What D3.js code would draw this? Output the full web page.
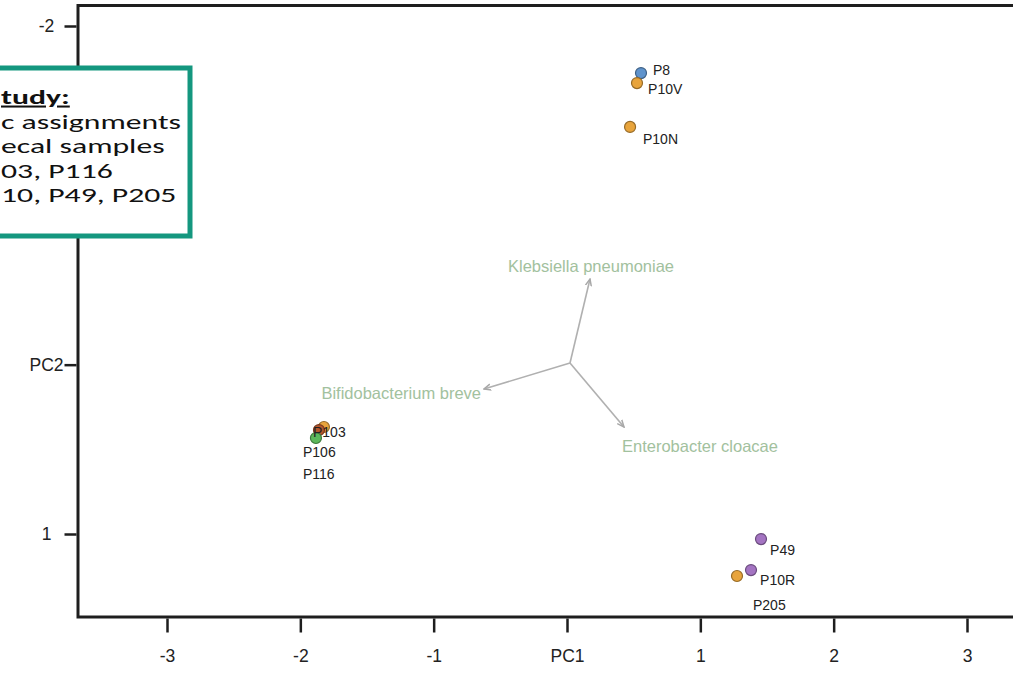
<!DOCTYPE html>
<html>
<head>
<meta charset="utf-8">
<script src="https://cdn.jsdelivr.net/npm/d3@7"></script>
<style>
    body { margin: 0; background: #fff; }
    svg { display: block; }
</style>
</head>
<body>
<svg id="chart" width="1013" height="690"></svg>
<script>
// sample scores (PC1, PC2)
const samples = ["P8", "P10V", "P10N", "P103", "P106", "P116", "P49", "P10R", "P205"];
const pc1 = [0.555, 0.525, 0.473, -1.823, -1.860, -1.883, 1.455, 1.275, 1.380];
const pc2 = [-1.722, -1.663, -1.404, 0.368, 0.386, 0.433, 1.030, 1.248, 1.213];
const groups = ["blue", "orange", "orange", "orange", "brown", "green", "purple", "orange", "purple"];
// where each sample name sits (data units, left edge / baseline)
const labelPC1 = [0.645, 0.608, 0.570, -1.905, -1.980, -1.980, 1.523, 1.448, 1.395];
const labelPC2 = [-1.711, -1.599, -1.303, 0.427, 0.545, 0.675, 1.124, 1.301, 1.449];

// species loadings (arrows from the origin)
const species = ["Klebsiella pneumoniae", "Bifidobacterium breve", "Enterobacter cloacae"];
const loadOrigin = [0.0225, -0.010];
const loadPC1 = [0.1725, -0.6225, 0.4275];
const loadPC2 = [-0.506, 0.144, 0.368];
const speciesLabelPC1 = [0.180, -0.645, 0.4125];
const speciesLabelPC2 = [-0.547, 0.203, 0.515];

// axes
const xTicks = [-3, -2, -1, 0, 1, 2, 3];
const xTickLabels = ["-3", "-2", "-1", "PC1", "1", "2", "3"];
const yTicks = [-2, -1, 0, 1];
const yTickLabels = ["-2", "-1", "PC2", "1"];

// callout text (box runs off the left edge)
const noteLines = ["tudy:", "c assignments", "ecal samples", "03, P116", "10, P49, P205"];

const colors = {
    blue: "#5f93cc",
    orange: "#e8a43c",
    brown: "#b5562c",
    green: "#5cb85c",
    purple: "#a474c2"
};

const svg = d3.select("#chart");

const frame = { left: 78, top: 5.5, bottom: 617, right: 1030 };

const x = d3.scaleLinear().domain([-3, 3]).range([167, 967]);
const y = d3.scaleLinear().domain([-2, 1]).range([26, 534]);

// plot frame
svg.append("rect")
    .attr("x", frame.left)
    .attr("y", frame.top)
    .attr("width", frame.right - frame.left)
    .attr("height", frame.bottom - frame.top)
    .attr("fill", "#fff")
    .attr("stroke", "#1e1e1e")
    .attr("stroke-width", 3);

// x axis
const xAxis = svg.append("g")
    .attr("transform", `translate(0,${frame.bottom + 1.5})`)
    .call(d3.axisBottom(x).tickValues(xTicks).tickFormat((d, i) => xTickLabels[i]).tickSize(14).tickSizeOuter(0));
xAxis.select(".domain").remove();
xAxis.selectAll("line").attr("stroke", "#1e1e1e").attr("stroke-width", 2.5);
xAxis.selectAll("text")
    .attr("y", 43)
    .attr("dy", 0)
    .style("font-family", "Liberation Sans, Arial, sans-serif")
    .style("font-size", "17.5px")
    .attr("fill", "#222");

// y axis (labels are centred in the source)
const yAxis = svg.append("g")
    .attr("transform", `translate(${frame.left - 1.5},0)`)
    .call(d3.axisLeft(y).tickValues(yTicks).tickFormat((d, i) => yTickLabels[i]).tickSize(12).tickSizeOuter(0));
yAxis.select(".domain").remove();
yAxis.selectAll("line").attr("stroke", "#1e1e1e").attr("stroke-width", 2.5);
yAxis.selectAll("text")
    .attr("x", -30)
    .attr("text-anchor", "middle")
    .style("font-family", "Liberation Sans, Arial, sans-serif")
    .style("font-size", "17.5px")
    .attr("fill", "#222");

// loading arrows
svg.append("defs").append("marker")
    .attr("id", "head")
    .attr("viewBox", "0 -4 8 8")
    .attr("refX", 7)
    .attr("refY", 0)
    .attr("markerWidth", 5)
    .attr("markerHeight", 5)
    .attr("orient", "auto")
    .append("path")
    .attr("d", "M0,-3L7,0L0,3")
    .attr("fill", "none")
    .attr("stroke", "#a8a8a8")
    .attr("stroke-width", 1.5);

svg.append("g").selectAll("line")
    .data(species)
    .join("line")
    .attr("x1", x(loadOrigin[0]))
    .attr("y1", y(loadOrigin[1]))
    .attr("x2", (d, i) => x(loadPC1[i]))
    .attr("y2", (d, i) => y(loadPC2[i]))
    .attr("stroke", "#b0b0b0")
    .attr("stroke-width", 1.6)
    .attr("marker-end", "url(#head)");

const anchors = ["middle", "end", "start"];
svg.append("g").selectAll("text")
    .data(species)
    .join("text")
    .attr("x", (d, i) => x(speciesLabelPC1[i]))
    .attr("y", (d, i) => y(speciesLabelPC2[i]))
    .attr("text-anchor", (d, i) => anchors[i])
    .style("font-family", "Liberation Sans, Arial, sans-serif")
    .style("font-size", "16.5px")
    .attr("fill", "#a2c19e")
    .text(d => d);

// sample points
svg.append("g").selectAll("circle")
    .data(samples)
    .join("circle")
    .attr("cx", (d, i) => x(pc1[i]))
    .attr("cy", (d, i) => y(pc2[i]))
    .attr("r", 5.5)
    .attr("fill", (d, i) => colors[groups[i]])
    .attr("stroke", (d, i) => d3.color(colors[groups[i]]).darker(1.2))
    .attr("stroke-width", 1.2);

svg.append("g").selectAll("text")
    .data(samples)
    .join("text")
    .attr("x", (d, i) => x(labelPC1[i]))
    .attr("y", (d, i) => y(labelPC2[i]))
    .style("font-family", "Liberation Sans, Arial, sans-serif")
    .style("font-size", "14px")
    .attr("fill", "#222")
    .text(d => d);

// callout box drawn over the plot
const note = svg.append("g");
note.append("rect")
    .attr("x", -20)
    .attr("y", 68)
    .attr("width", 210)
    .attr("height", 168)
    .attr("fill", "#fff")
    .attr("stroke", "#14977f")
    .attr("stroke-width", 5);

// the box text looks stretched wide in the source image
note.selectAll("text")
    .data(noteLines)
    .join("text")
    .attr("transform", (d, i) => `translate(1,${104 + i * 24.5}) scale(1.22,0.78)`)
    .style("font-family", "Carlito, Calibri, Lato, sans-serif")
    .style("font-size", "26px")
    .style("font-weight", (d, i) => i === 0 ? "bold" : "normal")
    .style("text-decoration", (d, i) => i === 0 ? "underline" : "none")
    .attr("fill", "#111")
    .text(d => d);
</script>
</body>
</html>
